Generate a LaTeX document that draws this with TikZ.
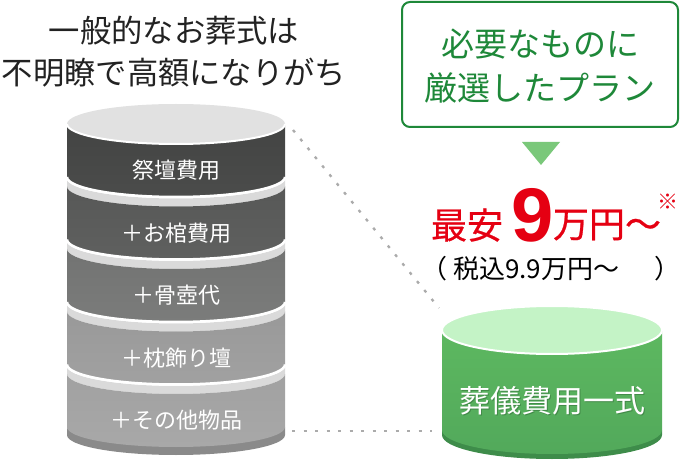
\documentclass[tikz,border=0pt]{standalone}
\usepackage{fontspec}
\setmainfont{Noto Sans CJK JP}
\newfontfamily\numfont{Liberation Sans}
\newfontfamily\cjkmed[FakeBold=0.7]{Noto Sans CJK JP}
\definecolor{headblack}{HTML}{222222}
\definecolor{topgray}{HTML}{E1E1E1}
\definecolor{rimgray}{HTML}{DADADA}
\definecolor{bandA1}{HTML}{434443}\definecolor{bandA2}{HTML}{4B4C4B}
\definecolor{bandB1}{HTML}{575857}\definecolor{bandB2}{HTML}{5F605F}
\definecolor{bandC1}{HTML}{727372}\definecolor{bandC2}{HTML}{7B7C7B}
\definecolor{bandD1}{HTML}{999999}\definecolor{bandD2}{HTML}{A1A1A1}
\definecolor{bandE1}{HTML}{A1A1A1}\definecolor{bandE2}{HTML}{A8A8A8}
\definecolor{basegray}{HTML}{8A8A8A}
\definecolor{plangreen}{HTML}{1E8839}
\definecolor{trigreen}{HTML}{7AC87A}
\definecolor{gtop}{HTML}{C4F3C6}
\definecolor{gbody1}{HTML}{5DB860}
\definecolor{gbody2}{HTML}{52A95B}
\definecolor{gbase}{HTML}{3E8C4A}
\definecolor{gshadow}{HTML}{2A5E30}
\definecolor{pricered}{HTML}{E50012}
\definecolor{dotgray}{HTML}{ABABAB}
\tikzset{
  bandtext/.style={text=white, inner sep=0pt, font=\fontsize{22}{22}\selectfont},
  headtext/.style={text=headblack, inner sep=0pt, align=center, font=\fontsize{31.3}{42}\selectfont},
  plantext/.style={text=plangreen, inner sep=0pt, align=center, font=\fontsize{33}{44}\selectfont},
  redtext/.style={text=pricered, inner sep=0pt, font=\cjkmed\fontsize{36}{36}\selectfont},
  dotline/.style={draw=dotgray, line width=2.3pt, dash pattern=on 3pt off 8.5pt},
  planbox/.style={draw=plangreen, line width=2pt, fill=white, rounded corners=8pt}
}
\begin{document}
\begin{tikzpicture}[x=1pt,y=-1pt]
\useasboundingbox (0,0) rectangle (680,462);

% heading
\node[headtext] (head) at (174,51.5) {一般的なお葬式は\\不明瞭で高額になりがち};

% left stacked cylinder
\fill[basegray] (67,427) -- (67,435) arc[start angle=180,end angle=0,x radius=109,y radius=20] -- (285,427) -- cycle;
\foreach \i/\ca/\cb/\txt in {4/bandE1/bandE2/{＋その他物品},3/bandD1/bandD2/{＋枕飾り壇},2/bandC1/bandC2/{＋骨壺代},1/bandB1/bandB2/{＋お棺費用},0/bandA1/bandA2/{祭壇費用}}{
  \pgfmathsetmacro{\c}{124+62.5*\i}
  \ifnum\i=0
    \fill[topgray] (176,\c) ellipse[x radius=109,y radius=20];
  \else
    \fill[rimgray] (67,\c-8) arc[start angle=180,end angle=0,x radius=109,y radius=20] -- (285,\c) arc[start angle=0,end angle=180,x radius=109,y radius=20] -- cycle;
  \fi
  \shade[top color=\ca, bottom color=\cb] (67,\c) arc[start angle=180,end angle=0,x radius=109,y radius=20] -- (285,\c+53) arc[start angle=0,end angle=180,x radius=109,y radius=20] -- cycle;
  \ifnum\i=0
    \draw[white, line width=2pt] (67,\c) arc[start angle=180,end angle=0,x radius=109,y radius=20];
  \fi
  \ifnum\i<4
    \draw[white, line width=2.5pt] (67,\c+53) arc[start angle=180,end angle=0,x radius=109,y radius=20];
  \fi
  \node[bandtext] (band\i) at (176,\c+46.5) {\txt};
}

% green plan box
\draw[planbox] (402,2) rectangle (678,127);
\node[plantext] (plan) at (540,66) {必要なものに\\厳選したプラン};
\fill[trigreen] (522,142) -- (560,142) -- (541,165) -- cycle;
\coordinate (tri) at (541,154);

% price
\node[redtext] (saian) at (467,225) {最安};
\node[text=pricered, inner sep=0pt, font=\numfont\bfseries\fontsize{76}{76}\selectfont] (nine) at (533,215) {9};
\node[redtext] (manen) at (607,225) {万円～};
\node[text=pricered, inner sep=0pt, font=\fontsize{21}{21}\selectfont] (kome) at (668,202) {※};
\node[text=black, inner sep=0pt, anchor=base west, font=\fontsize{26}{26}\selectfont] (tax) at (421,279) {（ 税込9.9万円～ \hspace{30pt}）};

% green cylinder
\fill[gbase] (442,430) -- (442,435) arc[start angle=180,end angle=0,x radius=110,y radius=24] -- (662,430) -- cycle;
\shade[top color=gbody1, bottom color=gbody2] (442,330) -- (442,430) arc[start angle=180,end angle=0,x radius=110,y radius=24] -- (662,330) -- cycle;
\fill[gtop, draw=white, line width=2pt] (552,330) ellipse[x radius=110,y radius=24];
\node[text=gshadow, opacity=0.45, inner sep=0pt, font=\fontsize{31}{31}\selectfont] (gshade) at (553.2,402.2) {葬儀費用一式};
\node[text=white, inner sep=0pt, font=\fontsize{31}{31}\selectfont] (gtext) at (552,401) {葬儀費用一式};

% connectors
\coordinate (lt) at (293,130);
\coordinate (gt) at (439,308);
\coordinate (lb) at (292,431);
\coordinate (gb) at (432,431);
\draw[dotline] (lt) -- (gt);
\draw[dotline] (lb) -- (gb);
\end{tikzpicture}
\end{document}
